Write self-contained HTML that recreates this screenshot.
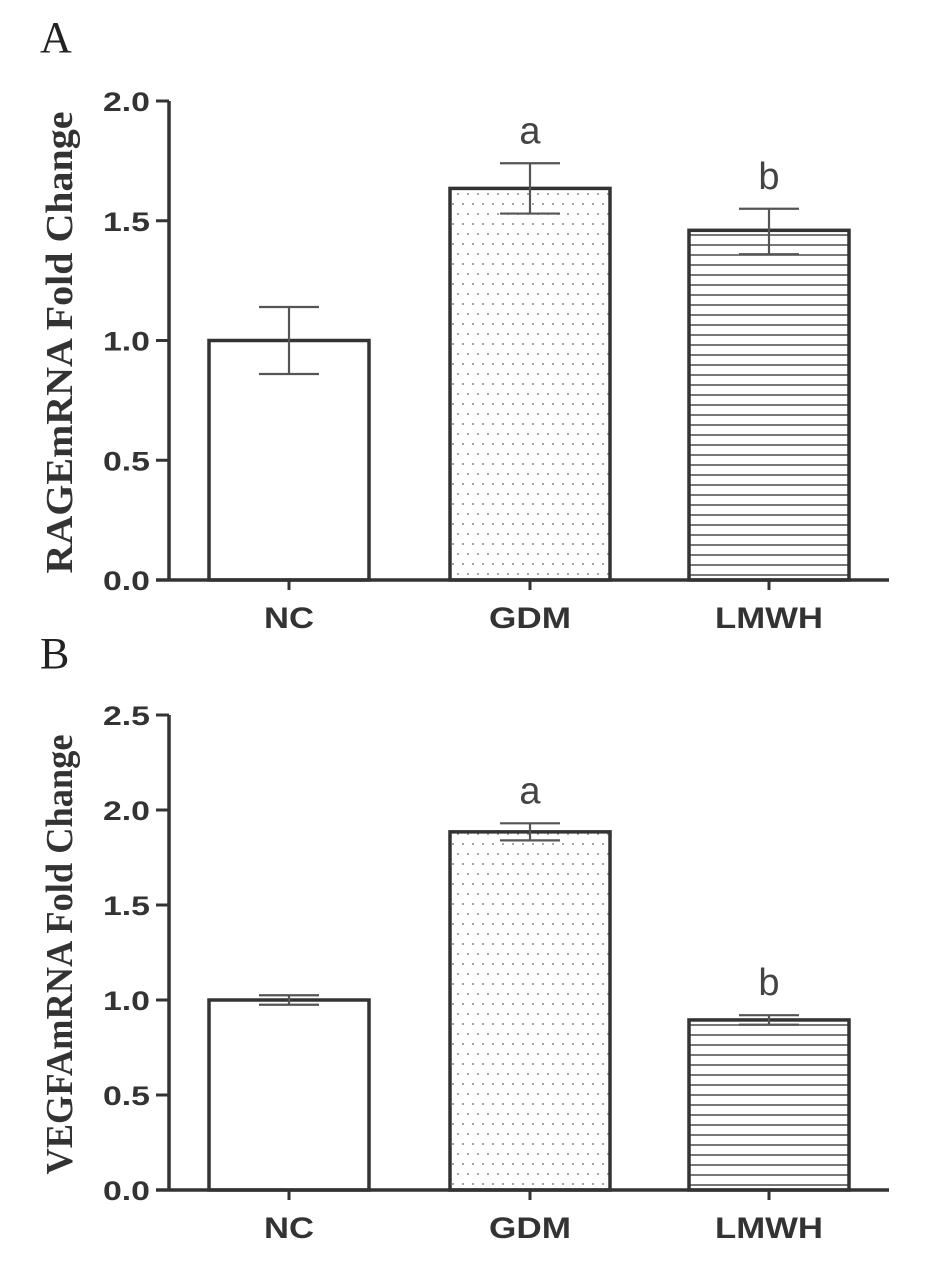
<!DOCTYPE html>
<html><head><meta charset="utf-8"><style>
html,body{margin:0;padding:0;background:#fff;}
svg{display:block;}
.tick{font-family:"Liberation Sans",Arial,sans-serif;font-weight:bold;font-size:27px;fill:#333;}
.cat{font-family:"Liberation Sans",Arial,sans-serif;font-weight:bold;font-size:30px;fill:#333;}
.ttl{font-family:"Liberation Serif",serif;font-weight:bold;font-size:38px;fill:#333;}
.pl{font-family:"Liberation Serif",serif;font-size:44px;fill:#222;}
.sig{font-family:"Liberation Sans",sans-serif;font-size:38px;fill:#444;}
</style></head><body>
<svg id="chart" width="945" height="1268" viewBox="0 0 945 1268">
<defs>
<pattern id="dots" width="10" height="20" patternUnits="userSpaceOnUse">
<circle cx="3" cy="4" r="1" fill="#888"/><circle cx="8" cy="14" r="1" fill="#888"/>
</pattern>
<pattern id="hlines" width="10" height="10" patternUnits="userSpaceOnUse">
<line x1="0" y1="5" x2="10" y2="5" stroke="#555" stroke-width="1.6"/>
</pattern>
</defs>
</svg>
<script>
const categories = ["NC","GDM","LMWH"];
const ragValues = [1.0, 1.635, 1.46];
const ragErrHi = [1.14, 1.74, 1.55];
const ragErrLo = [0.86, 1.53, 1.36];
const ragTicks = ["0.0","0.5","1.0","1.5","2.0"];
const ragSig = ["", "a", "b"];
const vegValues = [1.0, 1.885, 0.895];
const vegErrHi = [1.025, 1.93, 0.92];
const vegErrLo = [0.975, 1.84, 0.87];
const vegTicks = ["0.0","0.5","1.0","1.5","2.0","2.5"];
const vegSig = ["", "a", "b"];

const svg = document.getElementById('chart');
const NS = 'http://www.w3.org/2000/svg';
function mk(tag, attrs, parent){const e=document.createElementNS(NS,tag);for(const k in attrs)e.setAttribute(k,attrs[k]);(parent||svg).appendChild(e);return e;}
const fills = ["#fff","url(#dots)","url(#hlines)"];
const barLeft = [209,450,689];
const barW = 160;
const catLen = [50,82,108];

function panel(cfg){
  const g = mk('g',{});
  
  
  const yMax = cfg.ticks.length ? parseFloat(cfg.ticks[cfg.ticks.length-1]) : 1;
  const y = v => cfg.y0 - (v / yMax) * (cfg.y0 - cfg.yTop);
  const ax = 169;
  cfg.values.forEach((v,i)=>{
    const r = mk('rect',{x:barLeft[i],y:y(v),width:barW,height:cfg.y0-y(v),fill:fills[i],stroke:'#333','stroke-width':3.5},g);
    
    
    const cx = barLeft[i]+barW/2;
    const e = mk('path',{d:`M${cx-30},${y(cfg.hi[i])}H${cx+30}M${cx},${y(cfg.hi[i])}V${y(cfg.lo[i])}M${cx-30},${y(cfg.lo[i])}H${cx+30}`,stroke:'#555','stroke-width':2.2,fill:'none'},g);
    
    
    if(cfg.sig[i]){
      const s = mk('text',{x:cx,y:y(cfg.hi[i])-20,'text-anchor':'middle',class:'sig'},g);
      s.textContent = cfg.sig[i];
      
      
    }
    mk('line',{x1:cx,y1:cfg.y0,x2:cx,y2:cfg.y0+10,stroke:'#333','stroke-width':3},g);
    const l = mk('text',{x:cx-catLen[i]/2,y:cfg.y0+48,class:'cat',textLength:catLen[i],lengthAdjust:'spacingAndGlyphs'},g);
    l.textContent = categories[i];
    
    
  });
  const yA = mk('line',{x1:ax,y1:cfg.yTop,x2:ax,y2:cfg.y0,stroke:'#333','stroke-width':3.5},g);
  
  
  const xA = mk('line',{x1:156,y1:cfg.y0,x2:889,y2:cfg.y0,stroke:'#333','stroke-width':3.5},g);
  
  
  cfg.ticks.forEach(tk=>{
    const v=parseFloat(tk);
    mk('line',{x1:156,y1:y(v),x2:ax,y2:y(v),stroke:'#333','stroke-width':3},g);
    const t=mk('text',{x:103,y:y(v)+10,class:'tick',textLength:47,lengthAdjust:'spacingAndGlyphs'},g);
    t.textContent=tk;
    
    
  });
  const ttl = mk('text',{x:-cfg.titleLen/2,y:0,class:'ttl',textLength:cfg.titleLen,lengthAdjust:'spacingAndGlyphs',transform:`translate(72,${(cfg.y0+cfg.yTop)/2+2}) rotate(-90)`},g);
  ttl.textContent = cfg.title;
  
  
  const pl = mk('text',{x:40,y:cfg.letterY,class:'pl'},g);
  pl.textContent = cfg.letter;
  
  
}
panel({name:'panel-a',values:ragValues,hi:ragErrHi,lo:ragErrLo,ticks:ragTicks,sig:ragSig,y0:580,yTop:101,title:'RAGEmRNA Fold Change',titleLen:462,letter:'A',letterY:52});
panel({name:'panel-b',values:vegValues,hi:vegErrHi,lo:vegErrLo,ticks:vegTicks,sig:vegSig,y0:1190,yTop:715,title:'VEGFAmRNA Fold Change',titleLen:440,letter:'B',letterY:668});
</script>
</body></html>
